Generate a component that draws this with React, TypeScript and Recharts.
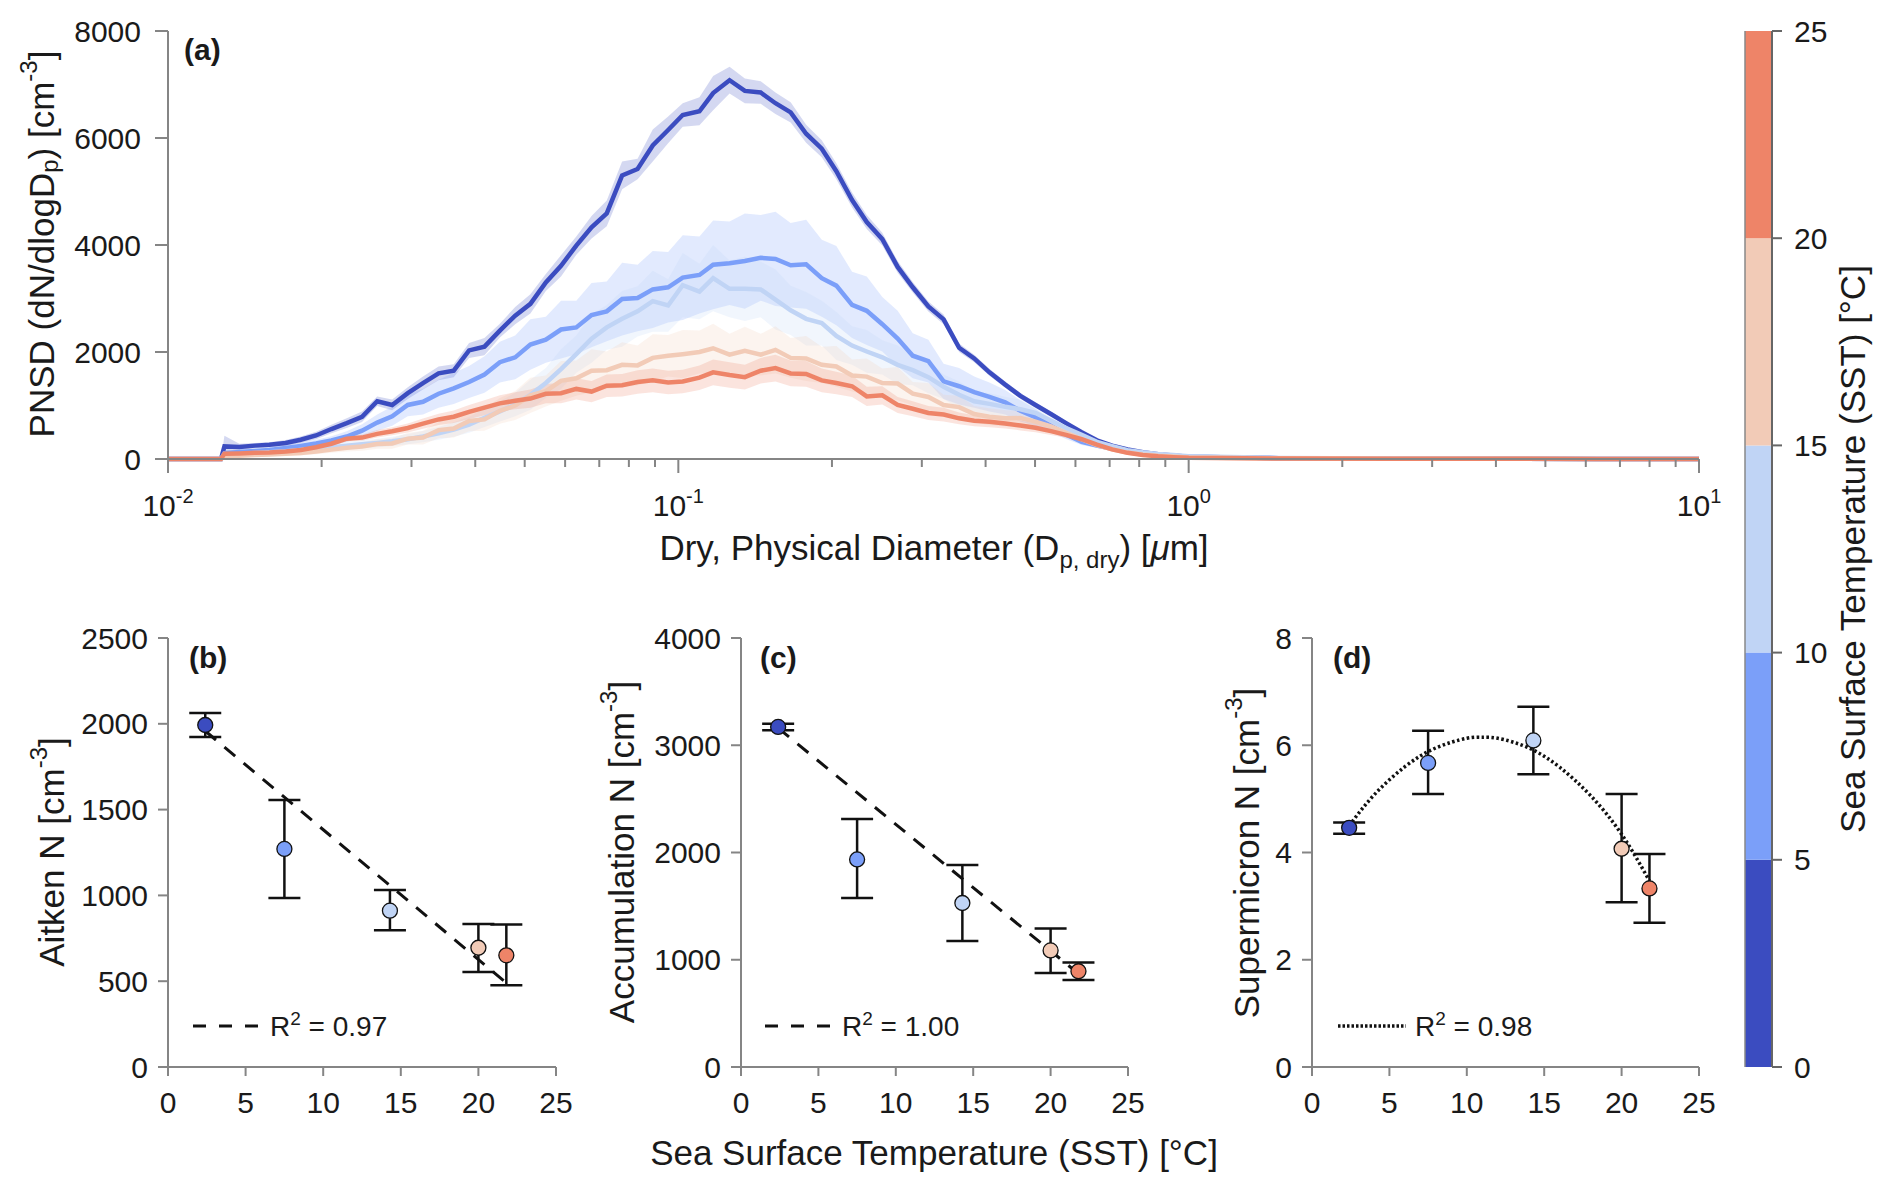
import React from "react";
import {
  ComposedChart,
  Line,
  Area,
  XAxis,
  YAxis,
  Scatter,
  ErrorBar,
  Cell,
  BarChart,
  Bar,
} from "recharts";

const FONT = '"Liberation Sans", Arial, Helvetica, sans-serif';
const AXIS = "#858585";
const INK = "#1a1a1a";

// SST bins (°C) and their colours
const sstEdges = [0, 5, 10, 15, 20, 25];
const sstColors = ["#3b4cc0", "#7b9ff9", "#c0d4f5", "#f2cbb7", "#ee8468"];

// ---- panel (a): size distributions ----
const diameters = [
  0.01, 0.0127,
  0.0129, 0.0138, 0.0148, 0.0158, 0.017, 0.0182, 0.0195, 0.0209, 0.0224, 0.024,
  0.0257, 0.0275, 0.0295, 0.0316, 0.0339, 0.0363, 0.0389, 0.0417, 0.0447, 0.0479,
  0.0513, 0.055, 0.0589, 0.0631, 0.0676, 0.0724, 0.0776, 0.0832, 0.0891, 0.0955,
  0.102, 0.11, 0.117, 0.126, 0.135, 0.145, 0.155, 0.166, 0.178, 0.191,
  0.204, 0.219, 0.234, 0.251, 0.269, 0.288, 0.309, 0.331, 0.355, 0.38,
  0.407, 0.437, 0.468, 0.501, 0.537, 0.575, 0.617, 0.661, 0.708, 0.759,
  0.813, 0.871, 0.933,
  1.0, 1.5, 2.5, 4, 6.3, 10,
];

const pnsd0to5 = [
  0, 0,
  235, 225, 250, 265, 300, 360, 440, 560, 670, 790,
  1080, 1010, 1230, 1420, 1600, 1650, 2030, 2100, 2400, 2680,
  2900, 3300, 3610, 3990, 4330, 4590, 5300, 5420, 5860, 6150,
  6430, 6500, 6840, 7080, 6880, 6850, 6650, 6480, 6080, 5800,
  5380, 4840, 4430, 4110, 3590, 3210, 2850, 2610, 2080, 1880,
  1620, 1390, 1180, 1010, 840, 670, 500, 350, 250, 180,
  125, 90, 65,
  40, 15, 6, 3, 2, 1,
];
const pnsd5to10 = [
  0, 0,
  110, 130, 150, 170, 205, 245, 290, 345, 420, 530,
  680, 800, 1010, 1070, 1220, 1320, 1440, 1580, 1810, 1900,
  2140, 2230, 2420, 2460, 2690, 2760, 2990, 3010, 3170, 3210,
  3390, 3440, 3630, 3660, 3700, 3760, 3740, 3620, 3640, 3380,
  3240, 2880, 2770, 2520, 2250, 1930, 1830, 1450, 1360, 1250,
  1160, 1060, 900, 780, 620, 460, 320, 250, 190, 140,
  100, 75, 58,
  40, 15, 7, 3, 2, 1,
];
const pnsd10to15 = [
  0, 0,
  75, 90, 110, 125, 145, 170, 195, 220, 250, 275,
  300, 330, 370, 420, 480, 550, 640, 770, 890, 1020,
  1200, 1420, 1680, 1960, 2250, 2460, 2620, 2760, 2950, 2870,
  3250, 3130, 3380, 3180, 3180, 3170, 2980, 2780, 2620, 2540,
  2300, 2120, 2010, 1900, 1760, 1660, 1530, 1350, 1200, 1080,
  1030, 975, 930, 860, 720, 580, 450, 320, 240, 165,
  125, 95, 75,
  50, 20, 9, 4, 2, 1,
];
const pnsd15to20 = [
  0, 0,
  45, 60, 75, 85, 100, 110, 140, 175, 210, 235,
  280, 290, 380, 400, 540, 570, 710, 740, 900, 1000,
  1190, 1270, 1460, 1510, 1650, 1660, 1760, 1750, 1890, 1930,
  1960, 2000, 2070, 1950, 2020, 1950, 2040, 1890, 1880, 1760,
  1730, 1560, 1540, 1420, 1410, 1220, 1160, 1010, 970, 840,
  790, 760, 765, 700, 610, 490, 370, 260, 180, 120,
  85, 60, 45,
  30, 12, 5, 3, 1, 1,
];
const pnsd20to25 = [
  0, 0,
  100, 105, 115, 120, 140, 170, 220, 285, 380, 400,
  470, 520, 580, 660, 740, 790, 880, 960, 1040, 1090,
  1130, 1220, 1230, 1310, 1260, 1370, 1380, 1440, 1470, 1430,
  1450, 1520, 1620, 1570, 1530, 1650, 1700, 1600, 1590, 1470,
  1420, 1360, 1170, 1190, 1010, 940, 860, 830, 760, 715,
  695, 665, 625, 585, 520, 450, 370, 270, 180, 115,
  75, 50, 35,
  22, 10, 5, 3, 1, 1,
];

// half-width of the shaded spread around each mean curve
const spread0to5 = [
  0, 0,
  200, 60, 50, 50, 55, 60, 70, 80, 90, 100,
  90, 100, 110, 120, 130, 120, 140, 160, 130, 160,
  180, 160, 200, 170, 210, 240, 260, 190, 300, 250,
  220, 260, 320, 250, 230, 210, 200, 190, 170, 160,
  150, 140, 130, 120, 110, 100, 95, 90, 80, 70,
  65, 60, 55, 50, 45, 40, 30, 25, 20, 15,
  12, 8, 6,
  4, 2, 1, 0, 0, 0,
];
const spread5to10 = [
  0, 0,
  40, 40, 45, 50, 55, 60, 70, 80, 100, 120,
  150, 180, 210, 240, 260, 290, 300, 340, 380, 410,
  470, 430, 540, 500, 600, 560, 680, 620, 720, 660,
  790, 720, 830, 780, 890, 800, 880, 790, 830, 720,
  740, 620, 640, 510, 520, 420, 400, 330, 340, 290,
  270, 230, 200, 160, 120, 85, 60, 45, 35, 28,
  22, 18, 14,
  8, 4, 2, 1, 0, 0,
];
const spread10to15 = [
  0, 0,
  30, 35, 40, 45, 50, 55, 60, 65, 70, 75,
  80, 85, 95, 105, 120, 135, 150, 170, 190, 220,
  280, 280, 370, 350, 450, 420, 520, 470, 570, 490,
  600, 520, 620, 530, 600, 520, 560, 460, 500, 420,
  450, 360, 400, 320, 360, 280, 300, 230, 250, 190,
  200, 190, 180, 160, 130, 100, 75, 55, 40, 30,
  24, 18, 14,
  8, 4, 2, 1, 0, 0,
];
const spread15to20 = [
  0, 0,
  20, 25, 30, 35, 40, 45, 50, 60, 70, 80,
  90, 100, 110, 130, 150, 170, 190, 210, 240, 270,
  330, 290, 370, 330, 400, 350, 420, 370, 440, 390,
  450, 400, 460, 390, 450, 390, 440, 370, 420, 340,
  380, 300, 340, 270, 310, 220, 260, 190, 210, 150,
  160, 150, 140, 120, 100, 80, 60, 40, 30, 22,
  16, 12, 8,
  5, 2, 1, 0, 0, 0,
];
const spread20to25 = [
  0, 0,
  15, 18, 20, 22, 25, 30, 35, 45, 55, 60,
  70, 75, 85, 95, 105, 115, 130, 140, 150, 160,
  170, 180, 190, 200, 200, 210, 210, 220, 220, 220,
  220, 230, 240, 240, 230, 240, 250, 240, 240, 220,
  210, 200, 180, 170, 150, 140, 130, 130, 110, 105,
  100, 95, 90, 85, 70, 55, 40, 28, 20, 14,
  10, 8, 6,
  4, 2, 1, 0, 0, 0,
];

const pnsdSeries = [pnsd0to5, pnsd5to10, pnsd10to15, pnsd15to20, pnsd20to25];
const spreadSeries = [spread0to5, spread5to10, spread10to15, spread15to20, spread20to25];

const pnsdTicks = [0, 2000, 4000, 6000, 8000];
const diamTicks = [
  0.01, 0.02, 0.03, 0.04, 0.05, 0.06, 0.07, 0.08, 0.09,
  0.1, 0.2, 0.3, 0.4, 0.5, 0.6, 0.7, 0.8, 0.9,
  1, 2, 3, 4, 5, 6, 7, 8, 9, 10,
];
const diamMajor = [0.01, 0.1, 1, 10];
const diamMajorExp = ["-2", "-1", "0", "1"];

// ---- panels (b)-(d): number concentrations vs SST ----
const sstMean = [2.4, 7.5, 14.3, 20.0, 21.8];

const aitkenN = [1993, 1271, 911, 695, 651];
const aitkenLow = [1923, 985, 797, 554, 477];
const aitkenHigh = [2063, 1556, 1032, 834, 830];
const aitkenFitX = [2.4, 21.8];
const aitkenFitY = [1958, 490];

const accumN = [3171, 1935, 1529, 1087, 893];
const accumLow = [3140, 1575, 1175, 876, 811];
const accumHigh = [3200, 2313, 1883, 1292, 974];
const accumFitX = [2.4, 21.8];
const accumFitY = [3160, 870];

const superN = [4.46, 5.67, 6.09, 4.07, 3.33];
const superLow = [4.35, 5.09, 5.46, 3.07, 2.69];
const superHigh = [4.56, 6.27, 6.72, 5.09, 3.97];
const superFitX = [2.4, 4, 6, 8, 10, 11, 12, 14, 16, 18, 20, 21.8];
const superFitY = [4.5, 5.07, 5.6, 5.95, 6.13, 6.15, 6.13, 5.95, 5.59, 5.06, 4.34, 3.47];

const sstTicks = [0, 5, 10, 15, 20, 25];

// build rows
const pnsdRows = diameters.map((d, i) => {
  const row: Record<string, any> = { d };
  pnsdSeries.forEach((s, k) => {
    const sp = spreadSeries[k][i];
    row[`m${k}`] = s[i];
    row[`r${k}`] = [Math.max(0, s[i] - sp), s[i] + sp];
  });
  return row;
});

const pointRows = (vals: number[], low: number[], high: number[]) =>
  sstMean.map((x, i) => ({ x, y: vals[i], err: [vals[i] - low[i], high[i] - vals[i]] }));
const fitRows = (xs: number[], ys: number[]) => xs.map((x, i) => ({ x, y: ys[i] }));

const cbRow = [
  sstEdges.slice(1).reduce(
    (acc: Record<string, any>, e, i) => ({ ...acc, [`b${i}`]: e - sstEdges[i] }),
    { name: "sst" }
  ),
];

const tickText = { fill: INK, fontSize: 30, fontFamily: FONT };
const axisLine = { stroke: AXIS, strokeWidth: 2 };

// axis boxes reserved by recharts inside the margins
const YW = 80;
const XH = 60;

function LogTick(props: any) {
  const { x, y, payload } = props;
  const idx = diamMajor.findIndex((m) => Math.abs(m - payload.value) / m < 1e-6);
  const major = idx >= 0;
  return (
    <g>
      <line x1={x} x2={x} y1={y} y2={y + (major ? 14 : 8)} stroke={AXIS} strokeWidth={2} />
      {major && (
        <text x={x} y={y + 57} textAnchor="middle" fontSize={30} fill={INK} fontFamily={FONT}>
          <tspan>10</tspan>
          <tspan dy={-13} fontSize={20}>
            {diamMajorExp[idx]}
          </tspan>
        </text>
      )}
    </g>
  );
}

function Dot(props: any) {
  const { cx, cy, fill } = props;
  return <circle cx={cx} cy={cy} r={7.5} fill={fill} stroke="#111" strokeWidth={1.3} />;
}

interface SstPanelProps {
  left: number;
  width: number;
  mLeft: number;
  mRight: number;
  points: { x: number; y: number; err: number[] }[];
  fit: { x: number; y: number }[];
  yMax: number;
  yTicks: number[];
  dash: string;
  curve?: boolean;
}

function SstPanel({ left, width, mLeft, mRight, points, fit, yMax, yTicks, dash, curve }: SstPanelProps) {
  return (
    <div style={{ position: "absolute", left, top: 600 }}>
      <ComposedChart
        width={width}
        height={594}
        margin={{ top: 38, right: mRight, bottom: 127 - XH, left: mLeft - YW }}
      >
        <XAxis
          dataKey="x"
          type="number"
          domain={[0, 25]}
          ticks={sstTicks}
          interval={0}
          height={XH}
          tickSize={9}
          tickMargin={16}
          axisLine={axisLine}
          tickLine={axisLine}
          tick={tickText}
        />
        <YAxis
          dataKey="y"
          type="number"
          domain={[0, yMax]}
          ticks={yTicks}
          interval={0}
          width={YW}
          tickSize={10}
          tickMargin={10}
          axisLine={axisLine}
          tickLine={axisLine}
          tick={tickText}
        />
        <Line
          data={fit}
          dataKey="y"
          type={curve ? "natural" : "linear"}
          stroke="#111"
          strokeWidth={curve ? 3.5 : 3}
          strokeDasharray={dash}
          dot={false}
          isAnimationActive={false}
        />
        <Scatter data={points} dataKey="y" shape={<Dot />} isAnimationActive={false}>
          {points.map((_, i) => (
            <Cell key={i} fill={sstColors[i]} />
          ))}
          <ErrorBar dataKey="err" direction="y" width={16} stroke="#111" strokeWidth={2.5} />
        </Scatter>
      </ComposedChart>
    </div>
  );
}

function RText({ x, y, children, size = 35 }: { x: number; y: number; children: React.ReactNode; size?: number }) {
  return (
    <text
      transform={`translate(${x},${y}) rotate(-90)`}
      textAnchor="middle"
      dominantBaseline="central"
      fontSize={size}
      fill={INK}
    >
      {children}
    </text>
  );
}

function Legend({ x, y, dash, label, width = 3 }: { x: number; y: number; dash: string; label: string; width?: number }) {
  return (
    <g>
      <line x1={x} x2={x + 68} y1={y} y2={y} stroke="#111" strokeWidth={width} strokeDasharray={dash} />
      <text x={x + 77} y={y + 10} fontSize={28} fill={INK}>
        R<tspan dy={-11} fontSize={19}>2</tspan>
        <tspan dy={11}> = {label}</tspan>
      </text>
    </g>
  );
}

export default function App() {
  return (
    <div
      style={{
        position: "absolute",
        left: 0,
        top: 0,
        width: 1892,
        height: 1194,
        background: "#fff",
        overflow: "hidden",
        fontFamily: FONT,
      }}
    >
      {/* (a) PNSD */}
      <div style={{ position: "absolute", left: 0, top: 0 }}>
        <ComposedChart
          width={1892}
          height={600}
          data={pnsdRows}
          margin={{ top: 31, right: 193, bottom: 141 - XH, left: 168 - YW }}
        >
          <XAxis
            dataKey="d"
            type="number"
            scale="log"
            domain={[0.01, 10]}
            allowDataOverflow
            ticks={diamTicks}
            interval={0}
            height={XH}
            tickSize={0}
            tickMargin={0}
            tickLine={false}
            axisLine={axisLine}
            tick={(p: any) => <LogTick {...p} />}
          />
          <YAxis
            type="number"
            domain={[0, 8000]}
            ticks={pnsdTicks}
            interval={0}
            width={YW}
            tickSize={13}
            tickMargin={14}
            axisLine={axisLine}
            tickLine={axisLine}
            tick={tickText}
          />
          {sstColors.map((c, k) => (
            <Area
              key={`band${k}`}
              dataKey={`r${k}`}
              type="linear"
              stroke="none"
              fill={c}
              fillOpacity={0.22}
              isAnimationActive={false}
            />
          ))}
          {sstColors.map((c, k) => (
            <Line
              key={`line${k}`}
              dataKey={`m${k}`}
              type="linear"
              stroke={c}
              strokeWidth={4.5}
              dot={false}
              isAnimationActive={false}
            />
          ))}
        </ComposedChart>
      </div>

      <SstPanel
        left={0}
        width={600}
        mLeft={168}
        mRight={44}
        points={pointRows(aitkenN, aitkenLow, aitkenHigh)}
        fit={fitRows(aitkenFitX, aitkenFitY)}
        yMax={2500}
        yTicks={[0, 500, 1000, 1500, 2000, 2500]}
        dash="14 11"
      />
      <SstPanel
        left={600}
        width={600}
        mLeft={141}
        mRight={72}
        points={pointRows(accumN, accumLow, accumHigh)}
        fit={fitRows(accumFitX, accumFitY)}
        yMax={4000}
        yTicks={[0, 1000, 2000, 3000, 4000]}
        dash="14 11"
      />
      <SstPanel
        left={1200}
        width={540}
        mLeft={112}
        mRight={41}
        points={pointRows(superN, superLow, superHigh)}
        fit={fitRows(superFitX, superFitY)}
        yMax={8}
        yTicks={[0, 2, 4, 6, 8]}
        dash="2.5 2.5"
        curve
      />

      {/* colour bar: plot box x 1745-1772, y 31-1067 */}
      <div style={{ position: "absolute", left: 1700, top: 0 }}>
        <BarChart
          width={192}
          height={1194}
          data={cbRow}
          margin={{ top: 31, right: 40, bottom: 127, left: 35 }}
          barCategoryGap={0}
          barGap={0}
        >
          <XAxis dataKey="name" hide />
          <YAxis
            yAxisId="r"
            orientation="right"
            type="number"
            domain={[0, 25]}
            ticks={sstEdges}
            interval={0}
            width={YW}
            tickSize={10}
            tickMargin={12}
            axisLine={{ stroke: "#666", strokeWidth: 2 }}
            tickLine={{ stroke: "#666", strokeWidth: 2 }}
            tick={tickText}
          />
          <YAxis
            yAxisId="l"
            orientation="left"
            type="number"
            domain={[0, 25]}
            width={10}
            tick={false}
            tickLine={false}
            axisLine={{ stroke: "#888", strokeWidth: 1.5 }}
          />
          {sstColors.map((c, i) => (
            <Bar key={i} yAxisId="r" dataKey={`b${i}`} stackId="cb" fill={c} isAnimationActive={false} />
          ))}
        </BarChart>
      </div>

      {/* titles and annotations */}
      <svg
        width={1892}
        height={1194}
        style={{ position: "absolute", left: 0, top: 0, pointerEvents: "none", fontFamily: FONT }}
      >
        <text x={184} y={60} fontSize={30} fontWeight="bold" fill={INK}>(a)</text>
        <text x={189} y={668} fontSize={30} fontWeight="bold" fill={INK}>(b)</text>
        <text x={760} y={668} fontSize={30} fontWeight="bold" fill={INK}>(c)</text>
        <text x={1333} y={668} fontSize={30} fontWeight="bold" fill={INK}>(d)</text>

        <RText x={41} y={244}>
          PNSD (dN/dlogD<tspan dy={8} fontSize={24}>p</tspan>
          <tspan dy={-8}>) [cm</tspan>
          <tspan dy={-13} fontSize={24}>-3</tspan>
          <tspan dy={13}>]</tspan>
        </RText>
        <text x={934} y={560} textAnchor="middle" fontSize={35} fill={INK}>
          Dry, Physical Diameter (D<tspan dy={8} fontSize={24}>p, dry</tspan>
          <tspan dy={-8}>) [</tspan>
          <tspan fontStyle="italic">μ</tspan>m]
        </text>

        <RText x={51} y={852}>
          Aitken N [cm<tspan dy={-13} fontSize={24}>-3</tspan>
          <tspan dy={13}>]</tspan>
        </RText>
        <RText x={621} y={852}>
          Accumulation N [cm<tspan dy={-13} fontSize={24}>-3</tspan>
          <tspan dy={13}>]</tspan>
        </RText>
        <RText x={1246} y={853}>
          Supermicron N [cm<tspan dy={-13} fontSize={24}>-3</tspan>
          <tspan dy={13}>]</tspan>
        </RText>
        <text x={934} y={1165} textAnchor="middle" fontSize={35} fill={INK}>
          Sea Surface Temperature (SST) [°C]
        </text>
        <RText x={1852} y={549}>Sea Surface Temperature (SST) [°C]</RText>

        <Legend x={193} y={1026} dash="13 13" label="0.97" />
        <Legend x={765} y={1026} dash="13 13" label="1.00" />
        <Legend x={1338} y={1026} dash="2.5 2" label="0.98" width={3.5} />
      </svg>
    </div>
  );
}
